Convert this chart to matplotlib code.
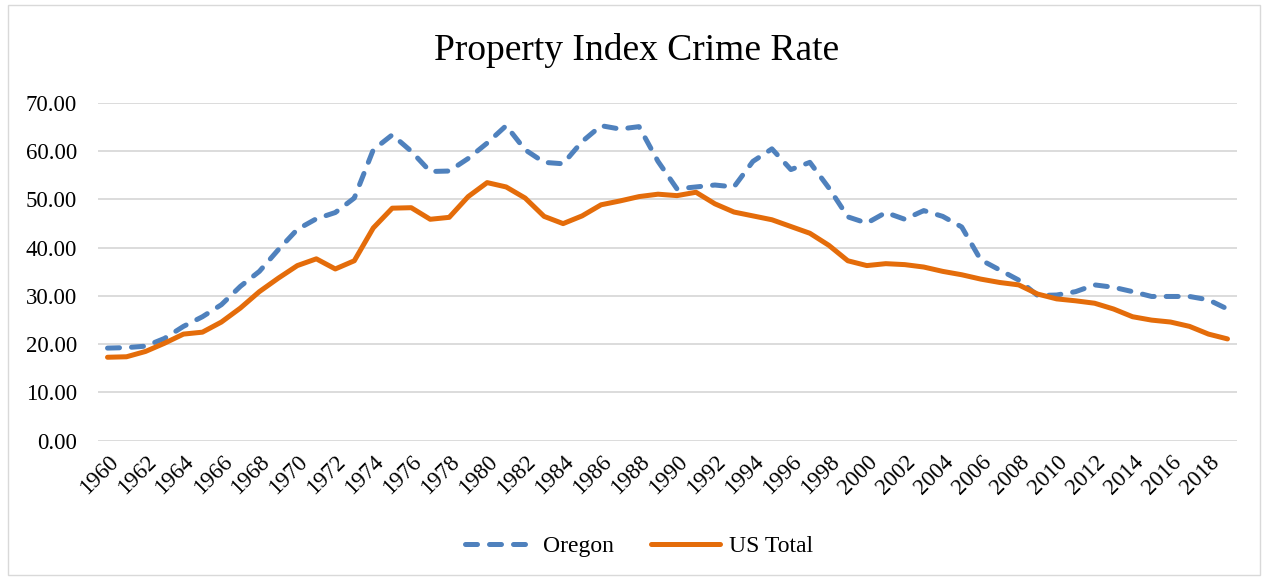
import numpy as np
from matplotlib import pyplot as plt
from matplotlib.patches import Rectangle

years = list(range(1960, 2020))
oregon = [19.2, 19.3, 19.6, 21.2, 23.7, 25.7, 28.2, 32.0, 35.1, 39.6,
          43.8, 46.0, 47.3, 50.3, 60.3, 63.4, 60.0, 55.8, 55.9, 58.5,
          61.7, 65.3, 60.3, 57.7, 57.4, 62.0, 65.3, 64.6, 65.1, 57.9,
          52.2, 52.6, 53.0, 52.6, 57.9, 60.5, 56.2, 57.7, 52.4, 46.4,
          45.1, 47.3, 45.9, 47.7, 46.5, 44.3, 37.5, 35.4, 33.3, 30.1,
          30.2, 30.9, 32.3, 31.8, 30.9, 29.9, 29.9, 29.9, 29.2, 27.3]
us_total = [17.3, 17.4, 18.5, 20.2, 22.1, 22.5, 24.6, 27.5, 30.9, 33.7,
            36.3, 37.7, 35.6, 37.3, 44.1, 48.2, 48.3, 45.9, 46.3, 50.6,
            53.5, 52.6, 50.3, 46.5, 45.0, 46.6, 48.9, 49.7, 50.6, 51.1,
            50.8, 51.5, 49.1, 47.4, 46.6, 45.8, 44.4, 43.0, 40.5, 37.3,
            36.3, 36.7, 36.5, 36.0, 35.1, 34.4, 33.5, 32.8, 32.3, 30.4,
            29.4, 29.0, 28.5, 27.3, 25.7, 25.0, 24.6, 23.7, 22.1, 21.1]

plt.rcParams['font.family'] = ['Liberation Serif', 'DejaVu Serif']

fig = plt.figure(figsize=(12.73, 5.78), dpi=100)
ax = fig.add_axes([0.077, 0.2375, 0.8947, 0.5843])

x = np.arange(len(years))
ax.plot(x, oregon, color='#4F81BD', lw=3.6, ls=(0, (2.4, 2.4)),
        dash_capstyle='round', label='Oregon', zorder=3)
ax.plot(x, us_total, color='#E46C0A', lw=3.6, solid_capstyle='round',
        label='US Total', zorder=3)

ax.set_xlim(-0.5, len(years) - 0.5)
ax.set_ylim(0, 70)
ax.set_yticks(np.arange(0, 71, 10))
ax.set_yticklabels(['%.2f' % v for v in np.arange(0, 71, 10)], fontsize=16.5)
ax.set_xticks(x[::2])
ax.set_xticklabels([str(y) for y in years[::2]], fontsize=16.5, rotation=45,
                   ha='right', rotation_mode='anchor')
ax.tick_params(axis='y', length=0, pad=15)
ax.tick_params(axis='x', length=0, pad=8)
ax.grid(axis='y', color='#D9D9D9', lw=1.3)
ax.set_axisbelow(True)
for s in ax.spines.values():
    s.set_visible(False)

fig.text(0.5, 0.913, 'Property Index Crime Rate', ha='center', va='center', fontsize=27)
fig.legend(loc='center', bbox_to_anchor=(0.502, 0.055), ncol=2, frameon=False,
           fontsize=17, handlelength=2.9, handletextpad=0.4, columnspacing=1.6)

fig.add_artist(Rectangle((0.006, 0.006), 0.984, 0.986, transform=fig.transFigure,
                         fill=False, edgecolor='#D9D9D9', lw=1))

plt.savefig('out.png', dpi=100)
